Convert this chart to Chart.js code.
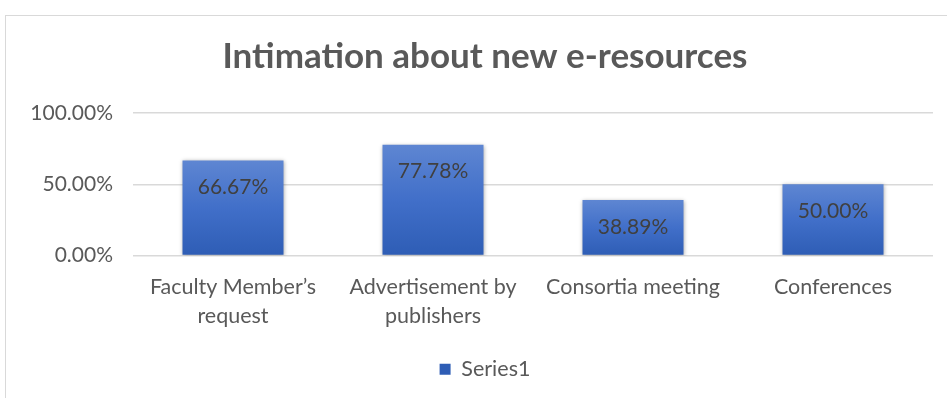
<!DOCTYPE html>
<html>
<head>
<meta charset="utf-8">
<script src="https://cdn.jsdelivr.net/npm/chart.js@4.4.1/dist/chart.umd.min.js"></script>
<style>
  html, body { margin: 0; padding: 0; background: #fff; overflow: hidden; }
  body { width: 947px; height: 398px; position: relative; }
  #frame {
    position: absolute; left: 5px; top: 15px;
    width: 960px; height: 400px;
    border: 1px solid #d9d9d9; box-sizing: border-box;
  }
  #chart { position: absolute; left: 5px; top: 15px; }
</style>
</head>
<body>
<div id="frame"></div>
<canvas id="chart" width="960" height="400"></canvas>
<script>
const categories = [
  ['Faculty Member\u2019s', 'request'],
  ['Advertisement by', 'publishers'],
  'Consortia meeting',
  'Conferences'
];
const seriesName = 'Series1';
const values = [0.6667, 0.7778, 0.3889, 0.5];
const yTicks = [0, 0.5, 1];

const FONT = 'Lato, "Liberation Sans", sans-serif';
const TEXT = '#595959';

function pct(v) {
  return (v * 100).toFixed(2) + '%';
}

// vertical gradient per bar, from its top down to the base line
function barFill(context) {
  if (context.type !== 'data') return '#4472c4';
  const chart = context.chart;
  const y = chart.scales.y;
  if (!y || !chart.chartArea) return '#4472c4';
  const top = y.getPixelForValue(context.raw);
  const base = y.getPixelForValue(0);
  const g = chart.ctx.createLinearGradient(0, top, 0, base);
  g.addColorStop(0, '#5e86d2');
  g.addColorStop(0.5, '#416fc9');
  g.addColorStop(1, '#2e5db5');
  return g;
}

// soft shadow around the bars
const barShadow = {
  id: 'barShadow',
  beforeDatasetDraw(chart) {
    const ctx = chart.ctx;
    ctx.save();
    ctx.shadowColor = 'rgba(0,0,0,0.35)';
    ctx.shadowBlur = 4;
    ctx.shadowOffsetX = 0;
    ctx.shadowOffsetY = 1;
  },
  afterDatasetDraw(chart) {
    chart.ctx.restore();
  }
};

// value labels inside the top of each bar
const valueLabels = {
  id: 'valueLabels',
  afterDatasetsDraw(chart) {
    const ctx = chart.ctx;
    const meta = chart.getDatasetMeta(0);
    ctx.save();
    ctx.font = '21px ' + FONT;
    ctx.fillStyle = '#404040';
    ctx.textAlign = 'center';
    ctx.textBaseline = 'middle';
    meta.data.forEach((bar, i) => {
      ctx.fillText(pct(values[i]), bar.x, bar.y + 27);
    });
    ctx.restore();
  }
};

new Chart(document.getElementById('chart'), {
  type: 'bar',
  data: {
    labels: categories,
    datasets: [{
      label: seriesName,
      data: values,
      backgroundColor: barFill,
      borderWidth: 0,
      categoryPercentage: 1,
      barPercentage: 0.505
    }]
  },
  options: {
    responsive: false,
    animation: false,
    layout: { padding: { left: 0, right: 0, top: 0, bottom: 25 } },
    scales: {
      x: {
        afterFit(scale) { scale.height = 93; },
        grid: { display: false },
        border: { display: false },
        ticks: {
          color: TEXT,
          font: { family: FONT, size: 21.5, lineHeight: 1.36 },
          maxRotation: 0,
          autoSkip: false,
          padding: 9
        }
      },
      y: {
        min: 0,
        max: 1,
        afterBuildTicks(scale) {
          scale.ticks = yTicks.map(v => ({ value: v }));
        },
        afterFit(scale) { scale.width = 128; },
        grid: { color: '#d9d9d9', lineWidth: 1.5, drawTicks: false },
        border: { display: false },
        ticks: {
          color: TEXT,
          font: { family: FONT, size: 21 },
          padding: 20,
          callback: v => pct(v)
        }
      },
      // empty right-hand gutter so title and legend stay centred on the full width
      gutter: {
        position: 'right',
        afterFit(scale) { scale.width = 32; },
        grid: { display: false },
        border: { display: false },
        ticks: { display: false }
      }
    },
    plugins: {
      title: {
        display: true,
        text: 'Intimation about new e-resources',
        color: TEXT,
        font: { family: FONT, size: 35, weight: 'bold' },
        padding: { top: 21, bottom: 35 }
      },
      legend: {
        position: 'bottom',
        labels: {
          color: TEXT,
          font: { family: FONT, size: 21.5 },
          boxWidth: 11,
          boxHeight: 11,
          padding: 10
        }
      },
      tooltip: { enabled: false }
    }
  },
  plugins: [barShadow, valueLabels]
});
</script>
</body>
</html>
